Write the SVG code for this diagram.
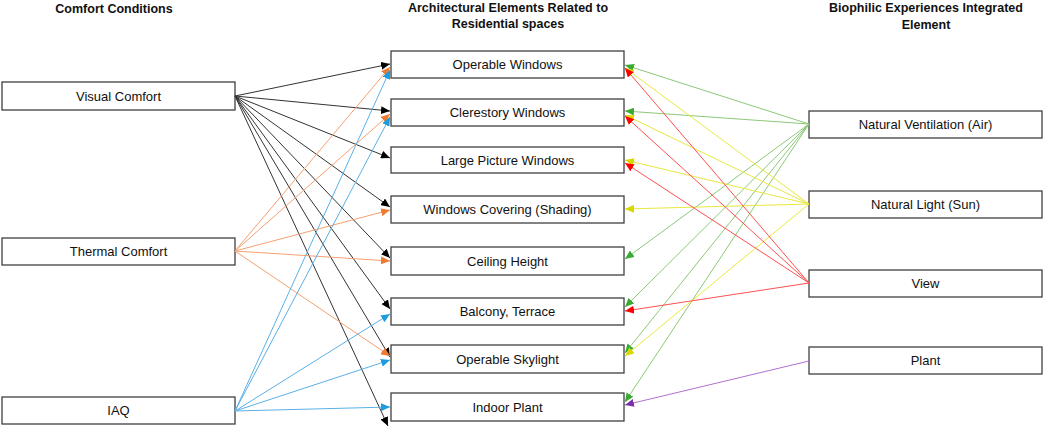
<svg xmlns="http://www.w3.org/2000/svg" width="1045" height="431" viewBox="0 0 1045 431">
<style>
.box{fill:#fff;stroke:#404040;stroke-width:1.3}
.t{font-family:"Liberation Sans",Arial,sans-serif;font-size:13px;fill:#111;text-anchor:middle}
.h{font-family:"Liberation Sans",Arial,sans-serif;font-size:12.5px;font-weight:bold;fill:#111;text-anchor:middle}
.c line{fill:none;stroke-width:1}
.k{stroke:#333}
.o{stroke:#F4A070}
.b{stroke:#5AB0E8}
.g{stroke:#8CC878}
.y{stroke:#E8E840}
.r{stroke:#FF5050}
.p{stroke:#B070D0}
</style>
<defs>
<marker id="mk" markerUnits="userSpaceOnUse" markerWidth="10" markerHeight="8" refX="9" refY="4" orient="auto"><path d="M0,0L9,4L0,8z" fill="#000"/></marker>
<marker id="mo" markerUnits="userSpaceOnUse" markerWidth="10" markerHeight="8" refX="9" refY="4" orient="auto"><path d="M0,0L9,4L0,8z" fill="#F07A30"/></marker>
<marker id="mb" markerUnits="userSpaceOnUse" markerWidth="10" markerHeight="8" refX="9" refY="4" orient="auto"><path d="M0,0L9,4L0,8z" fill="#1E9BDC"/></marker>
<marker id="mg" markerUnits="userSpaceOnUse" markerWidth="10" markerHeight="8" refX="9" refY="4" orient="auto"><path d="M0,0L9,4L0,8z" fill="#3AAA35"/></marker>
<marker id="my" markerUnits="userSpaceOnUse" markerWidth="10" markerHeight="8" refX="9" refY="4" orient="auto"><path d="M0,0L9,4L0,8z" fill="#D8D800"/></marker>
<marker id="mr" markerUnits="userSpaceOnUse" markerWidth="10" markerHeight="8" refX="9" refY="4" orient="auto"><path d="M0,0L9,4L0,8z" fill="#FF0000"/></marker>
<marker id="mp" markerUnits="userSpaceOnUse" markerWidth="10" markerHeight="8" refX="9" refY="4" orient="auto"><path d="M0,0L9,4L0,8z" fill="#7A30A8"/></marker>
</defs>
<rect width="1045" height="431" fill="#fff"/>
<g id="headers">
<text class="h" x="114" y="13">Comfort Conditions</text>
<text class="h" x="508" y="12">Architectural Elements Related to</text>
<text class="h" x="508" y="28">Residential spaces</text>
<text class="h" x="926" y="12">Biophilic Experiences Integrated</text>
<text class="h" x="926" y="29">Element</text>
</g>
<g id="nodes">
<g id="visual-comfort"><rect class="box" x="2" y="82" width="233" height="28"/><text class="t" x="118.5" y="100.5">Visual Comfort</text></g>
<g id="thermal-comfort"><rect class="box" x="2" y="238" width="233" height="27"/><text class="t" x="118.5" y="256">Thermal Comfort</text></g>
<g id="iaq"><rect class="box" x="2" y="397" width="233" height="27"/><text class="t" x="118.5" y="415">IAQ</text></g>
<g id="operable-windows"><rect class="box" x="391" y="51" width="233" height="27"/><text class="t" x="507.5" y="69">Operable Windows</text></g>
<g id="clerestory-windows"><rect class="box" x="391" y="99" width="233" height="27"/><text class="t" x="507.5" y="117">Clerestory Windows</text></g>
<g id="large-picture-windows"><rect class="box" x="391" y="147" width="233" height="26"/><text class="t" x="507.5" y="164.5">Large Picture Windows</text></g>
<g id="windows-covering"><rect class="box" x="391" y="196" width="233" height="27"/><text class="t" x="507.5" y="214">Windows Covering (Shading)</text></g>
<g id="ceiling-height"><rect class="box" x="391" y="247" width="233" height="28"/><text class="t" x="507.5" y="265.5">Ceiling Height</text></g>
<g id="balcony-terrace"><rect class="box" x="391" y="298" width="233" height="27"/><text class="t" x="507.5" y="316">Balcony, Terrace</text></g>
<g id="operable-skylight"><rect class="box" x="391" y="345" width="233" height="28"/><text class="t" x="507.5" y="363.5">Operable Skylight</text></g>
<g id="indoor-plant"><rect class="box" x="391" y="393" width="233" height="28"/><text class="t" x="507.5" y="411.5">Indoor Plant</text></g>
<g id="natural-ventilation"><rect class="box" x="809" y="111" width="233" height="27"/><text class="t" x="925.5" y="129">Natural Ventilation (Air)</text></g>
<g id="natural-light"><rect class="box" x="809" y="191" width="233" height="27"/><text class="t" x="925.5" y="209">Natural Light (Sun)</text></g>
<g id="view"><rect class="box" x="809" y="270" width="233" height="27"/><text class="t" x="925.5" y="288">View</text></g>
<g id="plant"><rect class="box" x="809" y="347" width="233" height="27"/><text class="t" x="925.5" y="365">Plant</text></g>
</g>
<g id="connectors" class="c">
<g marker-end="url(#mk)">
<line class="k" x1="235" y1="96" x2="390" y2="64"/>
<line class="k" x1="235" y1="96" x2="390" y2="111"/>
<line class="k" x1="235" y1="96" x2="390" y2="158"/>
<line class="k" x1="235" y1="96" x2="390" y2="207"/>
<line class="k" x1="235" y1="96" x2="390" y2="258"/>
<line class="k" x1="235" y1="96" x2="390" y2="309"/>
<line class="k" x1="235" y1="96" x2="390" y2="357"/>
<line class="k" x1="235" y1="96" x2="388" y2="426"/>
</g>
<g marker-end="url(#mo)">
<line class="o" x1="235" y1="251" x2="390" y2="67"/>
<line class="o" x1="235" y1="251" x2="390" y2="114"/>
<line class="o" x1="235" y1="251" x2="390" y2="210"/>
<line class="o" x1="235" y1="251" x2="390" y2="261"/>
<line class="o" x1="235" y1="251" x2="390" y2="356"/>
</g>
<g marker-end="url(#mb)">
<line class="b" x1="235" y1="411" x2="390" y2="70"/>
<line class="b" x1="235" y1="411" x2="390" y2="117"/>
<line class="b" x1="235" y1="411" x2="390" y2="314"/>
<line class="b" x1="235" y1="411" x2="390" y2="360"/>
<line class="b" x1="235" y1="411" x2="390" y2="407"/>
</g>
<g marker-end="url(#mg)">
<line class="g" x1="809" y1="124" x2="625" y2="65"/>
<line class="g" x1="809" y1="124" x2="625" y2="111"/>
<line class="g" x1="809" y1="124" x2="625" y2="259"/>
<line class="g" x1="809" y1="124" x2="625" y2="307"/>
<line class="g" x1="809" y1="124" x2="625" y2="353"/>
<line class="g" x1="809" y1="124" x2="625" y2="402"/>
</g>
<g marker-end="url(#my)">
<line class="y" x1="809" y1="204" x2="625" y2="68"/>
<line class="y" x1="809" y1="204" x2="625" y2="115"/>
<line class="y" x1="809" y1="204" x2="625" y2="160"/>
<line class="y" x1="809" y1="204" x2="625" y2="209"/>
<line class="y" x1="809" y1="204" x2="625" y2="356"/>
</g>
<g marker-end="url(#mr)">
<line class="r" x1="809" y1="283" x2="625" y2="68"/>
<line class="r" x1="809" y1="283" x2="625" y2="116"/>
<line class="r" x1="809" y1="283" x2="625" y2="163"/>
<line class="r" x1="809" y1="283" x2="625" y2="311"/>
</g>
<g marker-end="url(#mp)">
<line class="p" x1="809" y1="361" x2="625" y2="405"/>
</g>
</g>
</svg>
